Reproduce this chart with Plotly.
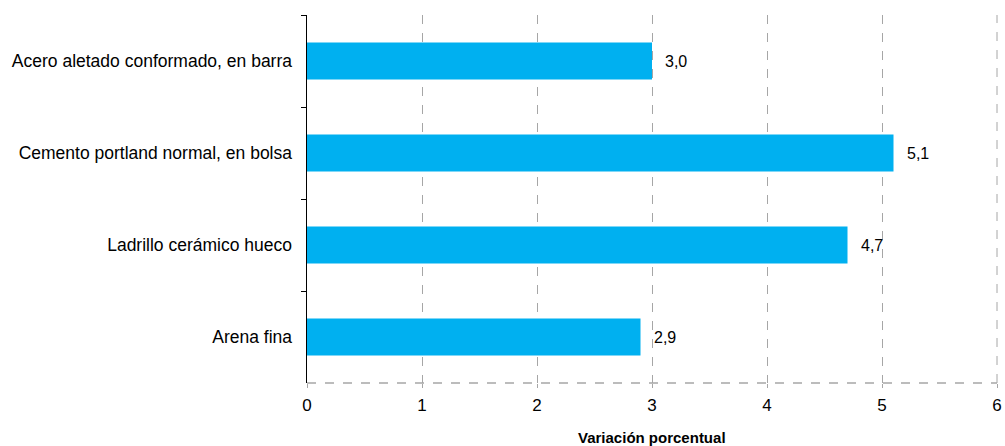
import plotly.graph_objects as go

categories = ["Acero aletado conformado, en barra", "Cemento portland normal, en bolsa",
              "Ladrillo cerámico hueco", "Arena fina"]
values = [3.0, 5.1, 4.7, 2.9]
x_ticks = [0, 1, 2, 3, 4, 5, 6]
x_title = "Variación porcentual"

FONT = "Liberation Sans, Arial, sans-serif"

fig = go.Figure(go.Bar(
    x=values, y=categories, orientation="h",
    marker=dict(color="#00B0F0", line=dict(width=0)),
    width=0.4,
    hoverinfo="skip",
))

for v, c in zip(values, categories):
    fig.add_annotation(
        x=v, y=c, xref="x", yref="y",
        text=f"{v:.1f}".replace(".", ","),
        showarrow=False, xanchor="left", yanchor="middle", xshift=11,
        font=dict(family=FONT, size=16, color="#000000"),
    )

# axis title
fig.add_annotation(
    x=0.5, y=0, xref="paper", yref="paper",
    text="<b>" + x_title + "</b>", showarrow=False,
    xanchor="center", yanchor="middle", yshift=-54,
    font=dict(family=FONT, size=15, color="#000000"),
)

fig.update_layout(
    width=1005, height=446,
    margin=dict(l=307, r=8, t=15, b=63),
    plot_bgcolor="white", paper_bgcolor="white",
    separators=",.",
    showlegend=False,
    hovermode=False,
    font=dict(family=FONT, size=17, color="#000000"),
    xaxis=dict(
        range=[0, 6], tickvals=x_ticks, ticktext=[str(t) for t in x_ticks],
        automargin=False,
        showgrid=True, gridcolor="#A6A6A6", griddash="dash", gridwidth=1,
        zeroline=False, showline=False,
        ticks="outside", ticklen=4, tickcolor="#A6A6A6",
        ticklabelstandoff=3, ticklabeloverflow="allow",
        tickfont=dict(family=FONT, size=17, color="#000000"),
    ),
    yaxis=dict(
        categoryorder="array", categoryarray=categories, autorange="reversed",
        automargin=False,
        showline=True, linecolor="#000000", linewidth=1.5,
        ticks="outside", tickson="boundaries", ticklen=5, tickcolor="#000000",
        showgrid=False, zeroline=False,
        tickfont=dict(family=FONT, size=17.5, color="#000000"),
        ticklabelstandoff=10,
    ),
    shapes=[
        dict(type="line", xref="paper", yref="paper", x0=0, x1=1, y0=0, y1=0,
             line=dict(color="#A6A6A6", width=1.5, dash="dash"), layer="below"),
        dict(type="line", xref="paper", yref="paper", x0=1, x1=1, y0=0, y1=1,
             line=dict(color="#A6A6A6", width=1, dash="dash"), layer="below"),
    ],
)

fig.write_html("out.html", config={"displayModeBar": False, "staticPlot": True},
               post_script="document.body.style.margin='0';document.body.style.overflow='hidden';")
